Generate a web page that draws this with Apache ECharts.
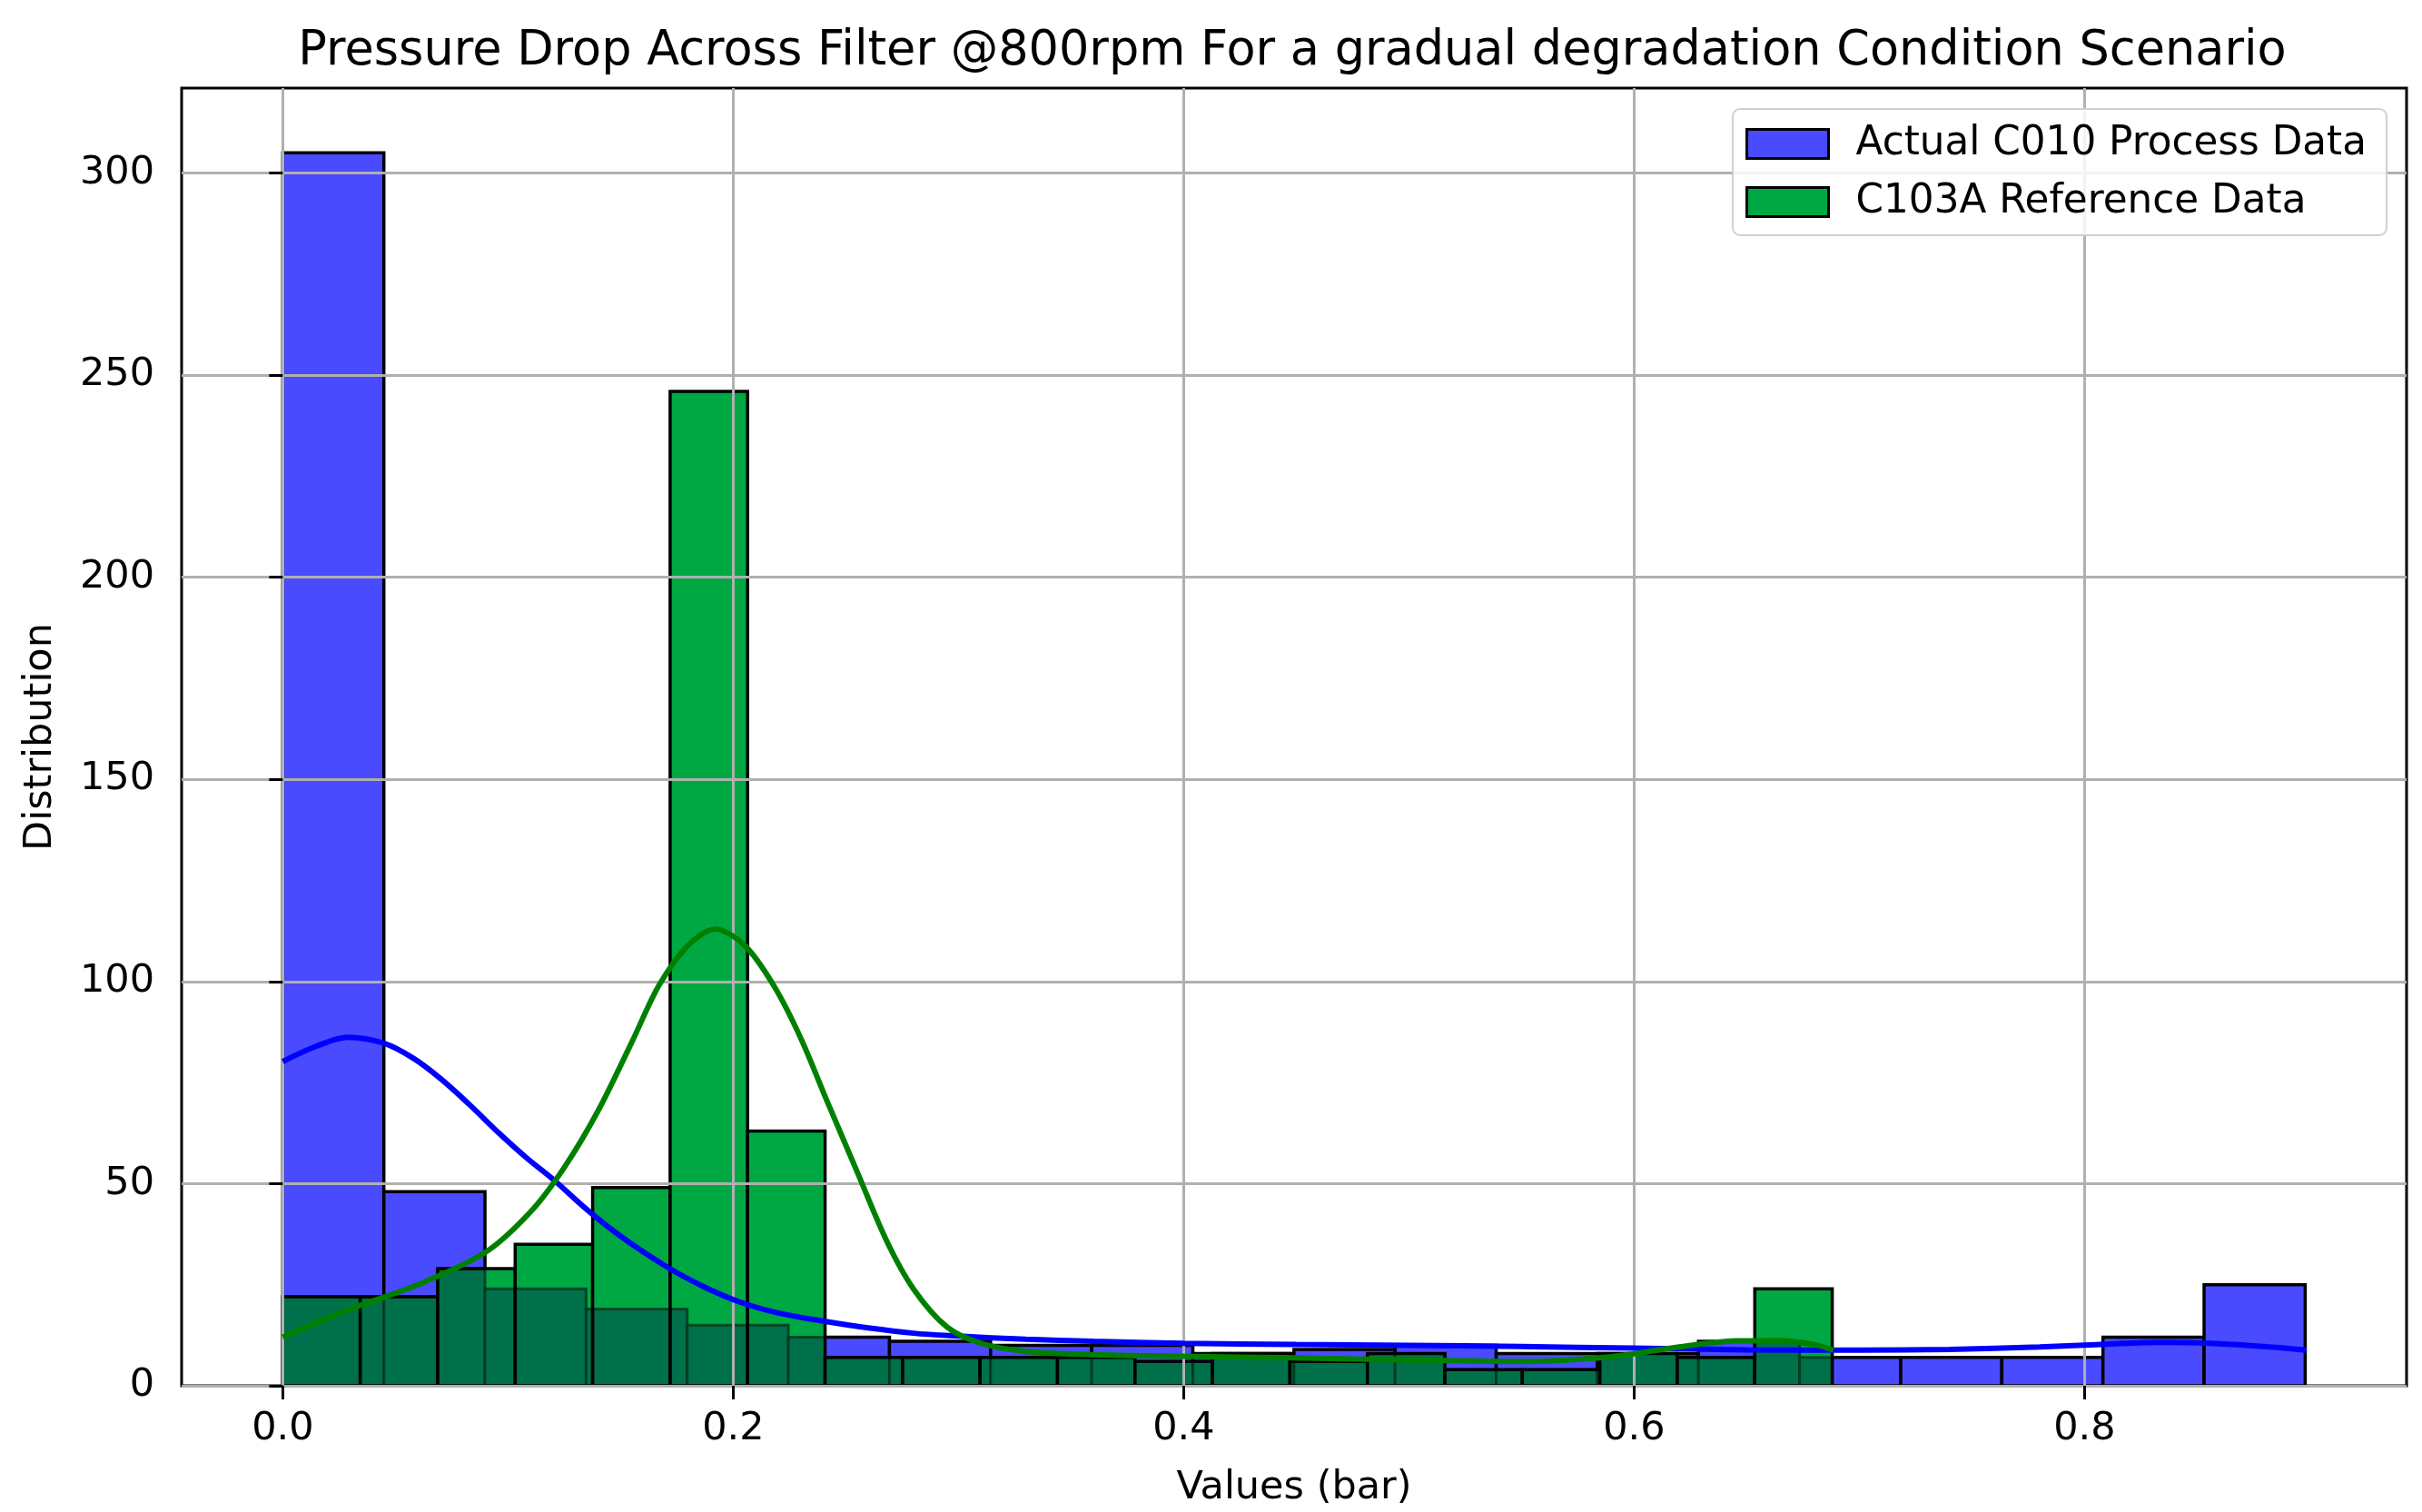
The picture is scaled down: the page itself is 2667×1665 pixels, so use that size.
<!DOCTYPE html>
<html lang="en">
<head>
    <meta charset="UTF-8">
    <title>Pressure Drop Across Filter</title>
    <script src="https://cdn.jsdelivr.net/npm/echarts@6.0.0/dist/echarts.min.js"></script>
    <style>
        html, body { margin: 0; padding: 0; background: #fff; }
        #main { width: 2667px; height: 1665px; }
    </style>
</head>
<body>
<div id="main"></div>
<script>
    // histogram bins: start, width, counts
    const blueStart = 0;
    const blueWidth = 0.0449;
    const blueCounts = [305, 48, 24, 19, 15, 12, 11, 10, 10, 8, 9, 10, 8, 8, 11, 7, 7, 7, 12, 25];

    const greenStart = 0;
    const greenWidth = 0.0344;
    const greenCounts = [22, 22, 29, 35, 49, 246, 63, 7, 7, 7, 7, 6, 8, 6, 8, 4, 4, 8, 7, 24];

    // kde curves
    const blueKdeX = [0, 0.015, 0.029, 0.045, 0.058, 0.07, 0.083, 0.096, 0.108, 0.121, 0.135, 0.15, 0.17, 0.187, 0.2035, 0.22, 0.24, 0.26, 0.28, 0.3, 0.33, 0.36, 0.4, 0.45, 0.5, 0.55, 0.6, 0.65, 0.7, 0.74, 0.78, 0.81, 0.835, 0.86, 0.88, 0.8985];
    const blueKdeY = [80.2, 84, 86.2, 84.7, 81, 76, 69.5, 62.5, 56.5, 50.6, 43.6, 37, 29.6, 24.5, 20.6, 18, 16, 14.3, 13, 12.3, 11.5, 11.0, 10.5, 10.2, 10.0, 9.7, 9.3, 8.9, 8.8, 9.0, 9.6, 10.3, 10.7, 10.4, 9.7, 8.8];

    const greenKdeX = [0, 0.03, 0.06, 0.09, 0.11, 0.125, 0.14, 0.155, 0.167, 0.18, 0.192, 0.205, 0.218, 0.23, 0.242, 0.255, 0.268, 0.28, 0.295, 0.31, 0.33, 0.36, 0.4, 0.45, 0.5, 0.55, 0.59, 0.62, 0.645, 0.665, 0.68, 0.6885];
    const greenKdeY = [12, 19, 25, 33, 43, 54, 68, 85, 99, 109, 113, 109, 99, 86, 70, 53, 36, 24, 14.5, 10.5, 8.5, 7.7, 7.3, 6.9, 6.4, 6.0, 7.2, 9.6, 11.1, 11.2, 10.2, 8.8];

    const xTicks = [0, 0.2, 0.4, 0.6, 0.8];
    const yTicks = [0, 50, 100, 150, 200, 250, 300];

    const seriesNames = ['Actual C010 Process Data', 'C103A Reference Data'];

    function toBins(start, width, counts) {
        return counts.map(function (c, i) {
            return [start + i * width, start + (i + 1) * width, c];
        });
    }

    function zip(xs, ys) {
        return xs.map(function (x, i) { return [x, ys[i]]; });
    }

    const blueBins = toBins(blueStart, blueWidth, blueCounts);
    const greenBins = toBins(greenStart, greenWidth, greenCounts);

    const blueFill = '#4a4aff';
    const greenFill = '#00a843';
    const overlapFill = '#00704b';
    const font = 'DejaVu Sans';
    const edge = 3.5;

    function rectOf(api, x0, x1, h) {
        let p0 = api.coord([x0, h]);
        let p1 = api.coord([x1, 0]);
        return {x: p0[0], y: p0[1], width: p1[0] - p0[0], height: p1[1] - p0[1]};
    }

    function blueItem(params, api) {
        return {
            type: 'rect',
            shape: rectOf(api, api.value(0), api.value(1), api.value(2)),
            style: {fill: blueFill, stroke: '#000', lineWidth: edge}
        };
    }

    // green bars, with the part lying over blue bars drawn darker
    function greenItem(params, api) {
        let x0 = api.value(0), x1 = api.value(1), c = api.value(2);
        let children = [{type: 'rect', shape: rectOf(api, x0, x1, c), style: {fill: greenFill}}];
        blueBins.forEach(function (b) {
            let lo = Math.max(b[0], x0), hi = Math.min(b[1], x1);
            if (hi <= lo) return;
            children.push({
                type: 'rect',
                shape: rectOf(api, lo, hi, Math.min(b[2], c)),
                style: {fill: overlapFill, stroke: 'rgba(0,55,25,0.8)', lineWidth: 3}
            });
        });
        children.push({type: 'rect', shape: rectOf(api, x0, x1, c), style: {fill: 'none', stroke: '#000', lineWidth: edge}});
        return {type: 'group', children: children};
    }

    let myChart = echarts.init(document.getElementById('main'), null, {renderer: 'canvas'});

    let option = {
        animation: false,
        backgroundColor: '#fff',
        textStyle: {fontFamily: font},
        title: {
            text: 'Pressure Drop Across Filter @800rpm For a gradual degradation Condition Scenario',
            left: 1418,
            textAlign: 'center',
            top: 26,
            textStyle: {fontFamily: font, fontSize: 52.5, fontWeight: 'normal', color: '#000'}
        },
        legend: {
            orient: 'vertical',
            right: 39,
            top: 120,
            padding: [16, 22, 14, 14],
            backgroundColor: 'rgba(255,255,255,0.85)',
            borderColor: '#d0d0d0',
            borderWidth: 2,
            borderRadius: 8,
            itemWidth: 90,
            itemHeight: 32,
            itemGap: 19,
            icon: 'rect',
            textStyle: {fontFamily: font, fontSize: 43.7, color: '#000', lineHeight: 45, padding: [0, 0, 0, 25]},
            data: [
                {name: seriesNames[0], itemStyle: {color: blueFill, borderColor: '#000', borderWidth: 3}},
                {name: seriesNames[1], itemStyle: {color: greenFill, borderColor: '#000', borderWidth: 3}}
            ]
        },
        grid: {
            left: 200,
            right: 17,
            top: 97,
            bottom: 139,
            show: true,
            borderColor: '#000',
            borderWidth: 3,
            backgroundColor: 'transparent'
        },
        xAxis: {
            type: 'value',
            min: -0.0449,
            max: 0.943,
            z: 3,
            name: 'Values (bar)',
            nameLocation: 'middle',
            nameGap: 91,
            nameTextStyle: {fontFamily: font, fontSize: 43, color: '#000'},
            axisLine: {show: false},
            axisTick: {show: true, customValues: xTicks, length: 15, lineStyle: {color: '#000', width: 3}},
            axisLabel: {
                customValues: xTicks, margin: 26, fontFamily: font, fontSize: 43, color: '#000',
                formatter: function (v) { return v.toFixed(1); }
            },
            splitLine: {show: true, lineStyle: {color: '#b0b0b0', width: 3}}
        },
        yAxis: {
            type: 'value',
            min: 0,
            max: 321,
            z: 3,
            name: 'Distribution',
            nameLocation: 'middle',
            nameGap: 134,
            nameTextStyle: {fontFamily: font, fontSize: 43, color: '#000'},
            axisLine: {show: false},
            axisTick: {show: true, customValues: yTicks, length: 15, lineStyle: {color: '#000', width: 3}},
            axisLabel: {customValues: yTicks, margin: 30, fontFamily: font, fontSize: 43, color: '#000'},
            splitLine: {show: true, lineStyle: {color: '#b0b0b0', width: 3}}
        },
        series: [
            {
                name: seriesNames[0],
                type: 'custom',
                renderItem: blueItem,
                itemStyle: {color: blueFill},
                encode: {x: [0, 1], y: 2},
                data: blueBins,
                z: 1
            },
            {
                name: seriesNames[1],
                type: 'custom',
                renderItem: greenItem,
                itemStyle: {color: greenFill},
                encode: {x: [0, 1], y: 2},
                data: greenBins,
                z: 2
            },
            {
                name: 'kde-blue',
                type: 'line',
                smooth: 0.35,
                showSymbol: false,
                lineStyle: {color: '#0000ff', width: 6},
                data: zip(blueKdeX, blueKdeY),
                z: 5
            },
            {
                name: 'kde-green',
                type: 'line',
                smooth: 0.3,
                showSymbol: false,
                lineStyle: {color: '#008000', width: 6},
                data: zip(greenKdeX, greenKdeY),
                z: 6
            }
        ]
    };

    myChart.setOption(option);
</script>
</body>
</html>
